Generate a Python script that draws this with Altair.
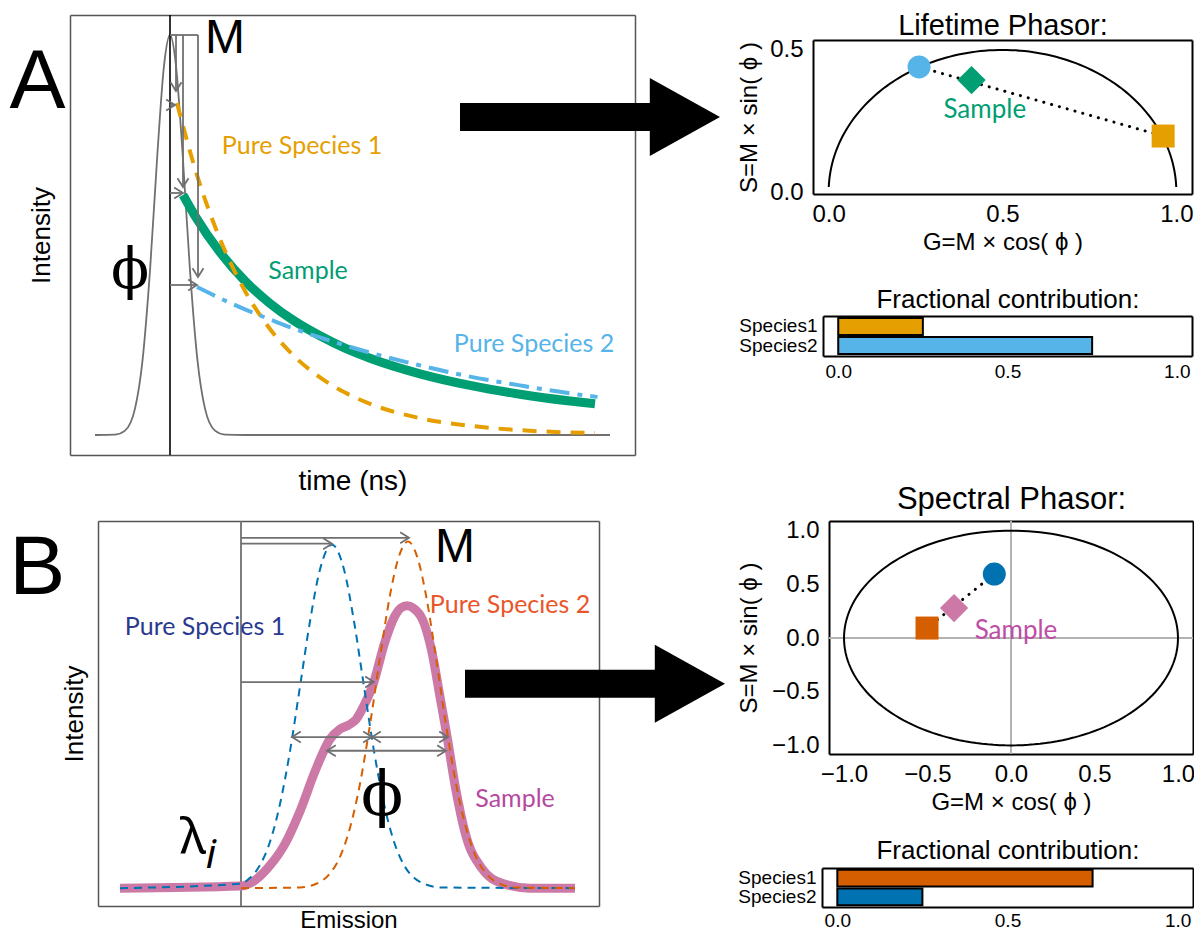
import numpy as np
import pandas as pd
import altair as alt

SANS = "Liberation Sans"
HUM = "Lato"
SERIF = "DejaVu Serif"
GRAY = "#707070"
CHEVRON = "M-1.6,-1L0,0L-1.6,1"
BIG_ARROW = "M-1,-0.108L0.46,-0.108L0.46,-0.3L1,0L0.46,0.3L0.46,0.108L-1,0.108Z"

# ===================== Panel A data (time in ns, intensity) =====================
irf_t = [-1.5, -1.1, -0.9, -0.7, -0.55, -0.4, -0.25, -0.12, 0.0, 0.12, 0.25, 0.4, 0.55, 0.7, 0.9, 1.1, 1.5, 8.8]
irf_i = [0.0, 0.001, 0.011, 0.066, 0.186, 0.411, 0.707, 0.923, 1.0, 0.923, 0.707, 0.411, 0.186, 0.066, 0.011, 0.001, 0.0, 0.0]

sp1_t = [0.14, 0.5, 1.0, 1.5, 2.0, 2.5, 3.0, 3.5, 4.0, 5.0, 6.0, 7.0, 8.5]
sp1_i = [0.83, 0.666, 0.49, 0.36, 0.265, 0.195, 0.144, 0.106, 0.078, 0.042, 0.023, 0.012, 0.005]

sp2_t = [0.54, 1.0, 1.5, 2.0, 2.5, 3.0, 3.5, 4.0, 5.0, 6.0, 7.0, 8.0, 8.55]
sp2_i = [0.37, 0.342, 0.314, 0.289, 0.265, 0.244, 0.224, 0.206, 0.174, 0.146, 0.124, 0.104, 0.095]

smp_t = [0.26, 0.5, 1.0, 1.5, 2.0, 2.5, 3.0, 3.5, 4.0, 5.0, 6.0, 7.0, 8.0, 8.5]
smp_i = [0.60, 0.548, 0.457, 0.385, 0.329, 0.284, 0.248, 0.217, 0.192, 0.153, 0.124, 0.102, 0.085, 0.078]

pulse_t = [0.0]

am_t = [0.12, 0.26, 0.56]          # modulation arrows (vertical)
am_top = [1.0, 1.0, 1.0]
am_end = [0.86, 0.62, 0.395]
ap_end = [0.10, 0.26, 0.54]        # phase arrows (horizontal)
ap_i = [0.825, 0.605, 0.375]
bracket_t = [0.0, 0.56]
bracket_i = [1.0]

a_lab_text = ["Pure Species 1", "Sample", "Pure Species 2"]
a_lab_t = [2.64, 2.76, 7.28]
a_lab_i = [0.7225, 0.41, 0.2275]
a_lab_col = ["#E69F00", "#009E73", "#56B4E9"]

a_sym_text = ["M", "A"]
a_sym_t = [1.1, -2.65]
a_sym_i = [0.99, 0.88]
a_phi_pos = [-0.8, 0.41]
arrowA_pos = [8.4, 0.795]

# ===================== Panel B data (emission in nm, intensity) =====================
pk_nm = [411, 471.5, 478.5, 486, 493.5, 501, 508.5, 516, 521, 525, 529, 532.5, 537.5, 543.5, 548.5,
         551.5, 554.5, 557.5, 562.5, 567, 571, 574.5, 578.5, 584, 592, 602, 616, 638.5]
pk_i = [0.0, 0.006, 0.023, 0.066, 0.129, 0.224, 0.34, 0.434, 0.463, 0.474, 0.491, 0.526, 0.592, 0.718, 0.793,
        0.816, 0.822, 0.816, 0.779, 0.687, 0.557, 0.443, 0.3, 0.152, 0.057, 0.014, 0.0, 0.0]

b1_nm = [411, 471.5, 476, 481, 486, 491, 496, 501, 506, 511, 517, 523, 528, 533, 538, 543, 548, 553, 558, 563, 571, 638.5]
b1_i = [0.0, 0.013, 0.03, 0.067, 0.135, 0.245, 0.399, 0.587, 0.777, 0.928, 1.0, 0.928, 0.777, 0.587, 0.399,
        0.245, 0.135, 0.067, 0.03, 0.013, 0.002, 0.0]

b2_nm = [471.5, 501, 511, 516, 521, 526, 531, 536, 541, 546, 550, 555, 560, 564, 569, 574, 579, 584, 589, 594, 599, 609, 638.5]
b2_i = [0.0, 0.002, 0.018, 0.043, 0.091, 0.176, 0.304, 0.476, 0.671, 0.853, 0.957, 1.009, 0.957, 0.853, 0.671,
        0.476, 0.304, 0.176, 0.091, 0.043, 0.018, 0.002, 0.0]

lam_nm = [471.5]
bm_end = [555.5, 517.0, 538.0]
bm_i = [1.02, 1.003, 0.60]
bp_start = [497.0, 514.5]
bp_end = [575.0, 574.0]
bp_i = [0.44, 0.40]
bp_mid = [537.0]

b_lab_text = ["Pure Species 1", "Pure Species 2", "Sample"]
b_lab_nm = [453.5, 606.0, 608.5]
b_lab_i = [0.76, 0.825, 0.259]
b_lab_col = ["#2B3990", "#E8562A", "#B5489F"]

b_sym_text = ["M", "B"]
b_sym_nm = [578.5, 369.6]
b_sym_i = [0.99, 0.928]
b_phi_pos = [542.0, 0.267]
b_lam_pos = [447.5, 0.144]
b_sub_pos = [456.5, 0.095]
arrowB_pos = [648.5, 0.595]

# ===================== Phasor / bar data =====================
pa_g = [0.26, 0.411, 0.962]
pa_s = [0.44, 0.394, 0.197]
pa_shape = ["circle", "diamond", "square"]
pa_col = ["#56B4E9", "#009E73", "#E69F00"]
pa_size = [529, 800, 529]
pa_sample_lab = [0.449, 0.289]

pb_g = [-0.10, -0.341, -0.503]
pb_s = [0.596, 0.279, 0.093]
pb_shape = ["circle", "diamond", "square"]
pb_col = ["#0072B2", "#CC79A7", "#D55E00"]
pb_size = [529, 800, 529]
pb_sample_lab = [0.03, 0.065]

fa_species = ["Species1", "Species2"]
fa_frac = [0.25, 0.75]
fa_col = ["#E69F00", "#56B4E9"]
fb_species = ["Species1", "Species2"]
fb_frac = [0.75, 0.25]
fb_col = ["#D55E00", "#0072B2"]

semi_deg = np.linspace(2.0, 178.0, 121)   # universal semicircle (geometry)
circ_deg = np.linspace(0.0, 360.0, 181)   # unit circle (geometry)

# ===================== layout (pixel boxes of each panel in the drawing) =====================
W, H = 1186, 924
A_XD, A_YD = [-2.0, 9.3], [-0.05, 1.05]
B_XD, B_YD = [400.0, 650.5], [-0.052, 1.069]
PA_XD, PA_YD = [-0.045, 1.045], [-0.007, 0.535]
PB_XD, PB_YD = [-1.09, 1.09], [-1.08, 1.09]
F_XD = [-0.045, 1.045]

A_XR, A_YR = [62, 627], [447, 7]
B_XR, B_YR = [90, 591], [898, 513]
PA_XR, PA_YR = [805, 1184], [186, 32]
FA_XR, FA_YR = [815, 1184], [308, 348]
PB_XR, PB_YR = [821, 1185], [746, 513]
FB_XR, FB_YR = [814, 1185], [860, 899]


# ===================== helpers =====================
def scales(xd, xr, yd, yr):
    sx = alt.Scale(domain=xd, range=xr, nice=False, zero=False)
    sy = alt.Scale(domain=yd, range=yr, nice=False, zero=False)

    def X(f="x", axis=None):
        return alt.X(f"{f}:Q", scale=sx, axis=axis)

    def Y(f="y", axis=None):
        return alt.Y(f"{f}:Q", scale=sy, axis=axis)
    return X, Y


def edge_axis(orient, offset, color, width, **kw):
    base = dict(orient=orient, offset=offset, domain=True, domainColor=color, domainWidth=width,
                ticks=False, tickSize=0, grid=False, labels=False, title=None,
                titleFont=SANS, titleFontWeight="normal", titleColor="black",
                labelFont=SANS, labelColor="black", labelFlush=False)
    base.update(kw)
    return alt.Axis(**base)


def frame_layers(X, Y, xr, yr, color, width, bottom_kw, left_kw, top_kw, right_kw):
    df = pd.DataFrame({"x": [0.0], "y": [0.0]})
    l1 = alt.Chart(df).mark_point(opacity=0).encode(
        x=X(axis=edge_axis("bottom", yr[0] - H, color, width, **bottom_kw)),
        y=Y(axis=edge_axis("left", -xr[0], color, width, **left_kw)))
    l2 = alt.Chart(df).mark_point(opacity=0).encode(
        x=X(axis=edge_axis("top", -yr[1], color, width, **top_kw)),
        y=Y(axis=edge_axis("right", xr[1] - W, color, width, **right_kw)))
    return [l1, l2]


def line_layer(xv, yv, X, Y, **mk):
    df = pd.DataFrame({"x": list(xv), "y": list(yv), "o": list(range(len(xv)))})
    return alt.Chart(df).mark_line(**mk).encode(x=X(), y=Y(), order=alt.Order("o:Q"))


def text_layer(xv, yv, labels, colors, X, Y, font, size, **mk):
    df = pd.DataFrame({"x": xv, "y": yv, "label": labels, "color": colors})
    return alt.Chart(df).mark_text(font=font, fontSize=size, align="center", baseline="middle", **mk).encode(
        x=X(), y=Y(), text="label:N", color=alt.Color("color:N", scale=None))


def rule_layer(x, x2, y, y2, X, Y, color, width):
    df = pd.DataFrame({"x": x, "x2": x2, "y": y, "y2": y2})
    return alt.Chart(df).mark_rule(color=color, strokeWidth=width).encode(
        x=X(), x2=alt.X2("x2:Q"), y=Y(), y2=alt.Y2("y2:Q"))


def head_layer(x, y, ang, X, Y):
    df = pd.DataFrame({"x": x, "y": y, "a": ang})
    return alt.Chart(df).mark_point(shape=CHEVRON, filled=False, size=121, strokeWidth=1.8,
                                    color=GRAY, opacity=1).encode(
        x=X(), y=Y(), angle=alt.Angle("a:Q", scale=None))


def big_arrow(pos, X, Y):
    df = pd.DataFrame({"x": [pos[0]], "y": [pos[1]]})
    return alt.Chart(df).mark_point(shape=BIG_ARROW, size=260 ** 2, filled=True, color="black",
                                    opacity=1, strokeWidth=0).encode(x=X(), y=Y())


def marker_layer(g, s, shp, col, size, X, Y):
    df = pd.DataFrame({"x": g, "y": s, "shape": shp, "color": col, "size": size})
    return alt.Chart(df).mark_point(filled=True, opacity=1, strokeWidth=0).encode(
        x=X(), y=Y(), shape=alt.Shape("shape:N", scale=None), color=alt.Color("color:N", scale=None),
        size=alt.Size("size:Q", scale=None))


layers = []

# ===================== Panel A =====================
XA, YA = scales(A_XD, A_XR, A_YD, A_YR)
layers += frame_layers(XA, YA, A_XR, A_YR, "#555555", 1.5,
                       dict(title="time (ns)", titleFontSize=28, titlePadding=12),
                       dict(title="Intensity", titleFontSize=26, titlePadding=16), {}, {})
layers += [
    line_layer(irf_t, irf_i, XA, YA, color=GRAY, strokeWidth=1.8, interpolate="monotone"),
    rule_layer(pulse_t, pulse_t, [A_YD[0]], [A_YD[1]], XA, YA, "black", 1.6),
    line_layer(smp_t, smp_i, XA, YA, color="#009E73", strokeWidth=9, interpolate="monotone"),
    line_layer(sp1_t, sp1_i, XA, YA, color="#E69F00", strokeWidth=4, strokeDash=[14, 10], interpolate="monotone"),
    line_layer(sp2_t, sp2_i, XA, YA, color="#56B4E9", strokeWidth=4, strokeDash=[20, 8, 5, 8], interpolate="monotone"),
    rule_layer([bracket_t[0]] + am_t + pulse_t * 3, [bracket_t[1]] + am_t + ap_end,
               bracket_i + am_top + ap_i, bracket_i + am_end + ap_i, XA, YA, GRAY, 1.8),
    head_layer(am_t + ap_end, am_end + ap_i, [90, 90, 90, 0, 0, 0], XA, YA),
    text_layer(a_lab_t, a_lab_i, a_lab_text, a_lab_col, XA, YA, HUM, 25),
    text_layer(a_sym_t[:1], a_sym_i[:1], a_sym_text[:1], ["black"], XA, YA, SANS, 48),
    text_layer(a_sym_t[1:], a_sym_i[1:], a_sym_text[1:], ["black"], XA, YA, SANS, 84),
    text_layer([a_phi_pos[0]], [a_phi_pos[1]], ["ϕ"], ["black"], XA, YA, SERIF, 56),
    big_arrow(arrowA_pos, XA, YA),
]

# ===================== Panel B =====================
XB, YB = scales(B_XD, B_XR, B_YD, B_YR)
layers += frame_layers(XB, YB, B_XR, B_YR, "#555555", 1.5,
                       dict(title="Emission", titleFontSize=24, titlePadding=2),
                       dict(title="Intensity", titleFontSize=26, titlePadding=11), {}, {})
layers += [
    rule_layer(lam_nm, lam_nm, [B_YD[0]], [B_YD[1]], XB, YB, GRAY, 1.8),
    line_layer(pk_nm, pk_i, XB, YB, color="#CC79A7", strokeWidth=9, interpolate="monotone"),
    line_layer(b1_nm, b1_i, XB, YB, color="#0072B2", strokeWidth=2, strokeDash=[8, 6], interpolate="monotone"),
    line_layer(b2_nm, b2_i, XB, YB, color="#D55E00", strokeWidth=2, strokeDash=[8, 6], interpolate="monotone"),
    rule_layer(lam_nm * 3 + bp_start, bm_end + bp_end, bm_i + bp_i, bm_i + bp_i, XB, YB, GRAY, 1.8),
    head_layer(bm_end + [bp_start[0], bp_end[0], bp_mid[0], bp_mid[0], bp_start[1], bp_end[1]],
               bm_i + [bp_i[0]] * 4 + [bp_i[1]] * 2,
               [0, 0, 0, 180, 0, 0, 180, 180, 0], XB, YB),
    text_layer(b_lab_nm, b_lab_i, b_lab_text, b_lab_col, XB, YB, HUM, 25),
    text_layer(b_sym_nm[:1], b_sym_i[:1], b_sym_text[:1], ["black"], XB, YB, SANS, 48),
    text_layer(b_sym_nm[1:], b_sym_i[1:], b_sym_text[1:], ["black"], XB, YB, SANS, 84),
    text_layer([b_phi_pos[0]], [b_phi_pos[1]], ["ϕ"], ["black"], XB, YB, SERIF, 62),
    text_layer([b_lam_pos[0]], [b_lam_pos[1]], ["λ"], ["black"], XB, YB, "Noto Sans", 50),
    text_layer([b_sub_pos[0]], [b_sub_pos[1]], ["i"], ["black"], XB, YB, "Noto Sans", 40, fontStyle="italic"),
    big_arrow(arrowB_pos, XB, YB),
]

# ===================== Lifetime phasor =====================
tick_style = dict(labels=True, labelFontSize=24, labelPadding=8)
XPA, YPA = scales(PA_XD, PA_XR, PA_YD, PA_YR)
layers += frame_layers(
    XPA, YPA, PA_XR, PA_YR, "black", 2,
    dict(values=[0, 0.5, 1.0], format=".1f", title="G=M × cos( ϕ )", titleFontSize=24, titlePadding=4, **tick_style),
    dict(values=[0, 0.5], format=".1f", title="S=M × sin( ϕ )", titleFontSize=24, titlePadding=8,
         labels=True, labelFontSize=24, labelPadding=10),
    dict(title="Lifetime Phasor:", titleFontSize=29, titlePadding=0), {})
semi_g = 0.5 - 0.5 * np.cos(np.radians(semi_deg))
semi_s = 0.5 * np.sin(np.radians(semi_deg))
layers += [
    line_layer(semi_g, semi_s, XPA, YPA, color="black", strokeWidth=2),
    line_layer([pa_g[0], pa_g[2]], [pa_s[0], pa_s[2]], XPA, YPA, color="black", strokeWidth=3,
               strokeDash=[0.1, 8], strokeCap="round"),
    marker_layer(pa_g, pa_s, pa_shape, pa_col, pa_size, XPA, YPA),
    text_layer([pa_sample_lab[0]], [pa_sample_lab[1]], ["Sample"], ["#009E73"], XPA, YPA, HUM, 26),
]

# ===================== Spectral phasor =====================
XPB, YPB = scales(PB_XD, PB_XR, PB_YD, PB_YR)
layers += frame_layers(
    XPB, YPB, PB_XR, PB_YR, "black", 2,
    dict(values=[-1, -0.5, 0, 0.5, 1], format=".1f", title="G=M × cos( ϕ )", titleFontSize=24, titlePadding=4, **tick_style),
    dict(values=[-1, -0.5, 0, 0.5, 1], format=".1f", title="S=M × sin( ϕ )", titleFontSize=24, titlePadding=10,
         labels=True, labelFontSize=24, labelPadding=10),
    dict(title="Spectral Phasor:", titleFontSize=31, titlePadding=6), {})
circ_g = np.cos(np.radians(circ_deg))
circ_s = np.sin(np.radians(circ_deg))
layers += [
    rule_layer([0.0], [0.0], [PB_YD[0]], [PB_YD[1]], XPB, YPB, "#b3b3b3", 2),
    rule_layer([PB_XD[0]], [PB_XD[1]], [0.0], [0.0], XPB, YPB, "#b3b3b3", 2),
    line_layer(circ_g, circ_s, XPB, YPB, color="black", strokeWidth=2),
    line_layer([pb_g[0], pb_g[2]], [pb_s[0], pb_s[2]], XPB, YPB, color="black", strokeWidth=3,
               strokeDash=[0.1, 8], strokeCap="round"),
    marker_layer(pb_g, pb_s, pb_shape, pb_col, pb_size, XPB, YPB),
    text_layer([pb_sample_lab[0]], [pb_sample_lab[1]], ["Sample"], ["#BE4EA5"], XPB, YPB, HUM, 26),
]


# ===================== Fractional contribution bars =====================
def bar_layers(species, fracs, colors, xr, yr, label_pad, title_pad):
    df = pd.DataFrame({"species": species, "frac": fracs, "start": [0.0] * len(species), "color": colors})
    bars = alt.Chart(df).mark_bar(stroke="black", strokeWidth=2, opacity=1).encode(
        x=alt.X("start:Q", scale=alt.Scale(domain=F_XD, range=xr, nice=False, zero=False),
                axis=edge_axis("bottom", yr[1] - H, "black", 2, values=[0, 0.5, 1.0], format=".1f",
                               labels=True, labelFontSize=19, labelPadding=label_pad)),
        x2=alt.X2("frac:Q"),
        y=alt.Y("species:N", sort=species,
                scale=alt.Scale(domain=species, range=yr, paddingInner=0.1, paddingOuter=0.1),
                axis=edge_axis("left", -xr[0], "black", 2, labels=True, labelFontSize=19, labelPadding=6)),
        color=alt.Color("color:N", scale=None),
    )
    fdf = pd.DataFrame({"x": [0.0], "y": [0.0]})
    frame = alt.Chart(fdf).mark_point(opacity=0).encode(
        x=alt.X("x:Q", scale=alt.Scale(domain=[0, 1], range=xr, nice=False, zero=False),
                axis=edge_axis("top", -yr[0], "black", 2, title="Fractional contribution:",
                               titleFontSize=26, titlePadding=title_pad)),
        y=alt.Y("y:Q", scale=alt.Scale(domain=[0, 1], range=[yr[1], yr[0]], nice=False, zero=False),
                axis=edge_axis("right", xr[1] - W, "black", 2)))
    return [frame, bars]


layers += bar_layers(fa_species, fa_frac, fa_col, FA_XR, FA_YR, 6, 4)
layers += bar_layers(fb_species, fb_frac, fb_col, FB_XR, FB_YR, 4, 5)

chart = alt.layer(*layers).resolve_scale(x="independent", y="independent").properties(
    width=W, height=H, autosize=alt.AutoSizeParams(type="none"), padding=0, background="white",
    view=alt.ViewBackground(strokeOpacity=0))

chart.save("out.html", embed_options={"renderer": "svg", "actions": False})
